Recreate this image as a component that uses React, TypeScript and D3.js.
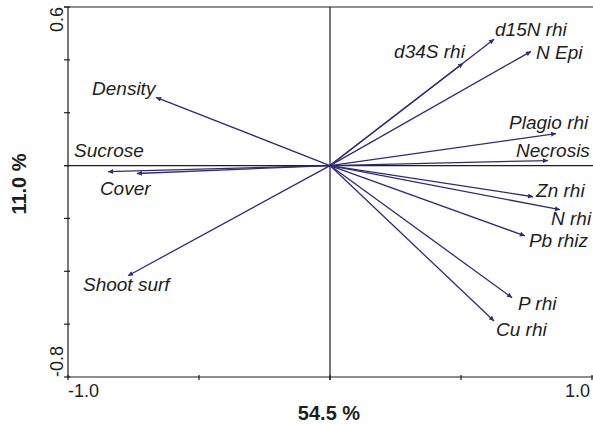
import React, { useEffect, useRef } from 'react';
import * as d3 from 'd3';

// PCA loadings
const variables = ['Density', 'Sucrose', 'Cover', 'Shoot surf', 'd34S rhi', 'd15N rhi', 'N Epi',
  'Plagio rhi', 'Necrosis', 'Zn rhi', 'N rhi', 'Pb rhiz', 'P rhi', 'Cu rhi'];
const axis1 = [-0.664, -0.847, -0.737, -0.771, 0.508, 0.626, 0.767, 0.863, 0.832, 0.775, 0.878, 0.744, 0.695, 0.626];
const axis2 = [0.258, -0.023, -0.030, -0.417, 0.387, 0.478, 0.432, 0.121, 0.019, -0.118, -0.167, -0.266, -0.500, -0.588];

const xTitle = '54.5 %';
const yTitle = '11.0 %';
const xTicks = [-1, -0.5, 0, 0.5, 1];
const yTicks = [0.6, 0.4, 0.2, 0, -0.2, -0.4, -0.6, -0.8];

// label placement relative to arrow tip (px)
const labelOffsets = {
  'Density': [-64, -2], 'Sucrose': [-34, -15], 'Cover': [-37, 21], 'Shoot surf': [-45, 15],
  'd34S rhi': [-69, -5], 'd15N rhi': [1, -3], 'N Epi': [5, 8], 'Plagio rhi': [-47, -5],
  'Necrosis': [-32, -4], 'Zn rhi': [3, 0], 'N rhi': [-9, 15], 'Pb rhiz': [4, 11],
  'P rhi': [6, 12], 'Cu rhi': [2, 15],
};

const App = () => {
  const ref = useRef(null);

  useEffect(() => {
    const width = 593, height = 424;
    const svg = d3.select(ref.current);
    svg.selectAll('*').remove();
    svg.attr('width', width).attr('height', height);

    const x = d3.scaleLinear().domain([-1, 1]).range([68, 592]);
    const y = d3.scaleLinear().domain([-0.8, 0.6]).range([377, 7]);
    const lineCol = '#1e1e1e';
    const arrowCol = '#2e2b78';
    const font = 'Arial, "Liberation Sans", Helvetica, sans-serif';

    svg.append('defs').append('marker')
      .attr('id', 'head')
      .attr('viewBox', '0 0 10 10')
      .attr('refX', 10).attr('refY', 5)
      .attr('markerWidth', 7).attr('markerHeight', 5)
      .attr('markerUnits', 'userSpaceOnUse')
      .attr('orient', 'auto')
      .append('path')
      .attr('d', 'M0,0L10,5L0,10z')
      .attr('fill', arrowCol);

    const g = svg.append('g');

    // frame: left axis, bottom axis, top line, zero lines
    g.append('line').attr('x1', x(-1)).attr('x2', x(-1)).attr('y1', y(0.6)).attr('y2', y(-0.8))
      .attr('stroke', lineCol).attr('stroke-width', 1.2);
    g.append('line').attr('x1', x(-1)).attr('x2', width).attr('y1', y(-0.8)).attr('y2', y(-0.8))
      .attr('stroke', lineCol).attr('stroke-width', 1.2);
    g.append('line').attr('x1', x(-1) - 4).attr('x2', width).attr('y1', y(0.6)).attr('y2', y(0.6))
      .attr('stroke', lineCol).attr('stroke-width', 1.2);
    g.append('line').attr('x1', x(-1) - 4).attr('x2', width).attr('y1', y(0)).attr('y2', y(0))
      .attr('stroke', lineCol).attr('stroke-width', 1.2);
    g.append('line').attr('x1', x(0)).attr('x2', x(0)).attr('y1', y(0.6)).attr('y2', y(-0.8) + 3)
      .attr('stroke', lineCol).attr('stroke-width', 1.2);

    g.selectAll('.xt').data(xTicks).enter().append('line')
      .attr('x1', d => x(d)).attr('x2', d => x(d))
      .attr('y1', y(-0.8) - 2).attr('y2', y(-0.8) + 3)
      .attr('stroke', lineCol).attr('stroke-width', 1.2);
    g.selectAll('.yt').data(yTicks).enter().append('line')
      .attr('x1', x(-1) - 4).attr('x2', x(-1) + 2)
      .attr('y1', d => y(d)).attr('y2', d => y(d))
      .attr('stroke', lineCol).attr('stroke-width', 1.2);

    // tick labels at the ends only
    g.append('text').text('-1.0').attr('x', x(-1)).attr('y', 397)
      .attr('font-family', font).attr('font-size', 18).attr('fill', lineCol);
    g.append('text').text('1.0').attr('x', x(1) - 2).attr('y', 397).attr('text-anchor', 'end')
      .attr('font-family', font).attr('font-size', 18).attr('fill', lineCol);
    g.append('text').text('0.6').attr('transform', `translate(63,${y(0.6)}) rotate(-90)`)
      .attr('text-anchor', 'end')
      .attr('font-family', font).attr('font-size', 18).attr('fill', lineCol);
    g.append('text').text('-0.8').attr('transform', `translate(63,${y(-0.8)}) rotate(-90)`)
      .attr('text-anchor', 'start')
      .attr('font-family', font).attr('font-size', 18).attr('fill', lineCol);

    // axis titles
    g.append('text').text(xTitle).attr('x', 329).attr('y', 420).attr('text-anchor', 'middle')
      .attr('font-family', font).attr('font-size', 20).attr('font-weight', 'bold').attr('fill', lineCol);
    g.append('text').text(yTitle).attr('transform', 'translate(26,184) rotate(-90)')
      .attr('text-anchor', 'middle')
      .attr('font-family', font).attr('font-size', 20).attr('font-weight', 'bold').attr('fill', lineCol);

    const rows = variables.map((name, i) => ({ name, a: axis1[i], b: axis2[i] }));

    // arrows
    g.selectAll('.arrow').data(rows).enter().append('line')
      .attr('x1', x(0)).attr('y1', y(0))
      .attr('x2', d => x(d.a)).attr('y2', d => y(d.b))
      .attr('stroke', arrowCol).attr('stroke-width', 1.3)
      .attr('marker-end', 'url(#head)');

    // labels
    g.selectAll('.lab').data(rows).enter().append('text')
      .text(d => d.name)
      .attr('x', d => x(d.a) + labelOffsets[d.name][0])
      .attr('y', d => y(d.b) + labelOffsets[d.name][1])
      .attr('font-family', font).attr('font-size', 19).attr('font-style', 'italic')
      .attr('fill', lineCol);
  }, []);

  return <svg ref={ref} style={{ position: 'absolute', left: 0, top: 0 }} />;
};

export default App;
